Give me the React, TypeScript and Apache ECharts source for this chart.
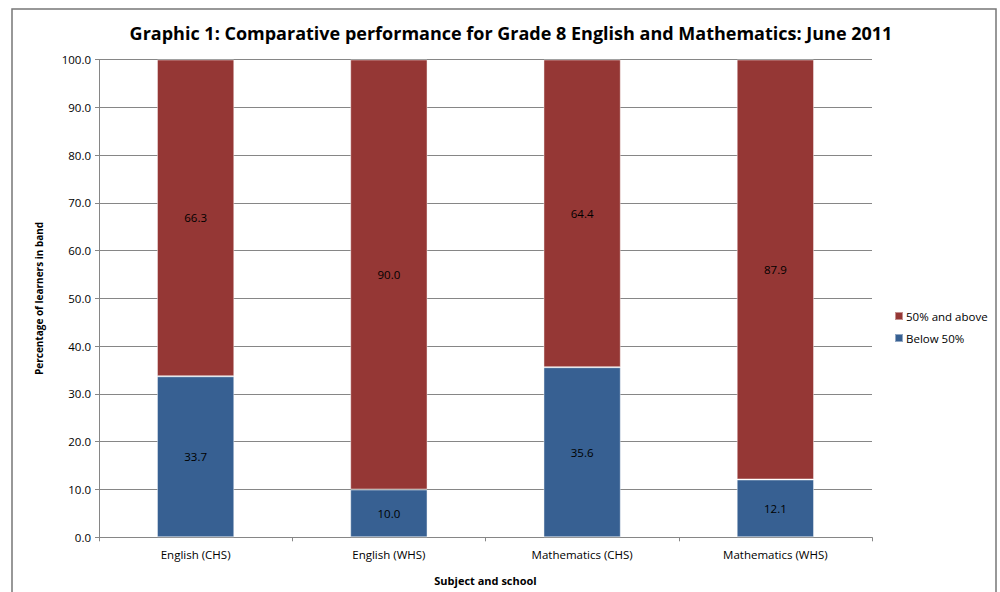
import React, { useEffect, useRef } from "react";
import * as echarts from "echarts";

const categories = ["English (CHS)", "English (WHS)", "Mathematics (CHS)", "Mathematics (WHS)"];
const below50 = [33.7, 10.0, 35.6, 12.1];
const above50 = [66.3, 90.0, 64.4, 87.9];
const yTicks = { min: 0, max: 100, step: 10 };

const FONT = "'Open Sans', Lato, sans-serif";
const GREY = "#868686";
const SMALL = 11.5;

export default function App() {
  const ref = useRef<HTMLDivElement>(null);

  useEffect(() => {
    if (!ref.current) return;
    const chart = echarts.init(ref.current, undefined, { renderer: "svg" });
    const valueLabel = {
      show: true,
      position: "inside",
      fontFamily: FONT,
      fontSize: SMALL,
      color: "#000",
      formatter: (p: any) => Number(p.value).toFixed(1),
    };
    chart.setOption({
      animation: false,
      backgroundColor: "#ffffff",
      textStyle: { fontFamily: FONT },
      title: {
        text: "Graphic 1: Comparative performance for Grade 8 English and Mathematics: June 2011",
        left: 506,
        top: 19,
        textAlign: "center",
        textStyle: { fontFamily: FONT, fontSize: 18, fontWeight: "bold", color: "#000" },
      },
      graphic: [
        {
          type: "rect",
          shape: { x: 12, y: 9, width: 984, height: 600 },
          style: { fill: "none", stroke: "#777777", lineWidth: 1.5 },
          silent: true,
        },
      ],
      legend: {
        orient: "vertical",
        left: 889,
        top: 305,
        itemWidth: 8,
        itemHeight: 8,
        itemGap: 10,
        icon: "rect",
        data: ["50% and above", "Below 50%"],
        textStyle: { fontFamily: FONT, fontSize: SMALL, color: "#000", padding: [0, 0, 0, -2] },
      },
      grid: { left: 99, right: 128, top: 59.5, bottom: 54.7 },
      xAxis: {
        type: "category",
        data: categories,
        name: "Subject and school",
        nameLocation: "middle",
        nameGap: 38,
        nameTextStyle: { fontFamily: FONT, fontSize: 11, fontWeight: "bold", color: "#000" },
        axisLine: { lineStyle: { color: GREY } },
        axisTick: { show: true, length: 4, lineStyle: { color: GREY } },
        axisLabel: { fontFamily: FONT, fontSize: SMALL, color: "#000", margin: 11 },
      },
      yAxis: {
        type: "value",
        min: yTicks.min,
        max: yTicks.max,
        interval: yTicks.step,
        name: "Percentage of learners in band",
        nameLocation: "middle",
        nameGap: 55,
        nameRotate: 90,
        nameTextStyle: { fontFamily: FONT, fontSize: 10, fontWeight: "bold", color: "#000" },
        axisLine: { show: true, lineStyle: { color: GREY } },
        axisTick: { show: true, length: 4, lineStyle: { color: GREY } },
        axisLabel: {
          fontFamily: FONT,
          fontSize: SMALL,
          color: "#000",
          margin: 8,
          formatter: (v: number) => v.toFixed(1),
        },
        splitLine: { lineStyle: { color: GREY } },
      },
      series: [
        {
          name: "Below 50%",
          type: "bar",
          stack: "total",
          data: below50,
          barCategoryGap: "60%",
          itemStyle: { color: "#376092", borderColor: "rgba(255,255,255,0.45)", borderWidth: 1 },
          label: valueLabel,
        },
        {
          name: "50% and above",
          type: "bar",
          stack: "total",
          data: above50,
          barCategoryGap: "60%",
          itemStyle: { color: "#953735", borderColor: "rgba(255,255,255,0.45)", borderWidth: 1 },
          label: valueLabel,
        },
      ],
    });
    return () => chart.dispose();
  }, []);

  return (
    <div
      ref={ref}
      style={{ position: "fixed", left: 0, top: 0, width: 1000, height: 592 }}
    />
  );
}
